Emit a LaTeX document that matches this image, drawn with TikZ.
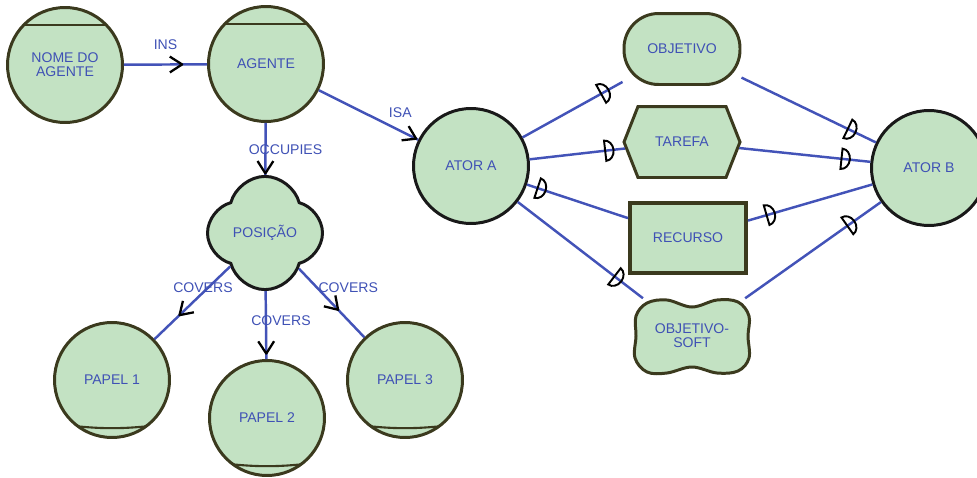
\documentclass[tikz,border=0pt]{standalone}
\usepackage{fontspec}
\setmainfont{Liberation Sans}
\usetikzlibrary{shapes.symbols,decorations.markings}

\definecolor{nodefill}{HTML}{C3E2C3}
\definecolor{nodeline}{HTML}{3B3A1E}
\definecolor{linkblue}{HTML}{4353B8}
\definecolor{textblue}{HTML}{3F51B5}

\tikzset{
	ent/.style={draw=nodeline, fill=nodefill, line width=1.7pt, text=textblue, font=\fontsize{8}{8}\selectfont, align=center, inner sep=0pt},
	agentnode/.style={ent, circle, minimum size=2.3cm, path picture={\draw[nodeline,line width=1.2pt] ([yshift=-0.35cm]path picture bounding box.north west) -- ([yshift=-0.35cm]path picture bounding box.north east);}},
	rolenode/.style={ent, circle, minimum size=2.3cm, path picture={\draw[nodeline,line width=1.2pt] ([yshift=0.28cm]path picture bounding box.south west) to[bend right=8] ([yshift=0.28cm]path picture bounding box.south east);}},
	actornode/.style={ent, circle, draw=black!90, minimum size=2.3cm},
	link/.style={draw=linkblue, line width=1.4pt},
	lbl/.style={text=textblue, font=\fontsize{8}{8}\selectfont, inner sep=1pt},
	arrowat/.style={postaction={decorate, decoration={markings, mark=at position #1 with {\draw[black, line width=1.3pt, line join=round] (-7pt,4.5pt) -- (0,0) -- (-7pt,-4.5pt);}}}},
	dmark/.style={postaction={decorate, decoration={markings, mark=at position #1 with {\draw[black, line width=1.1pt] (-1.5pt,-5.8pt) arc[start angle=-90, end angle=90, x radius=4.8pt, y radius=5.8pt] -- cycle;}}}}
}

\begin{document}
\begin{tikzpicture}[x=0.02cm, y=-0.02cm]
	\useasboundingbox (0,0) rectangle (977,477);

	\node[agentnode] (nome) at (65,65) {NOME DO\\AGENTE};
	\node[agentnode] (agente) at (266,64) {AGENTE};
	\node[ent, cloud, cloud puffs=4, cloud puff arc=150, aspect=1, draw=black!90, minimum width=2.3cm, minimum height=2.25cm] (posicao) at (265,233) {POSIÇÃO};
	\node[rolenode] (papel1) at (112,380) {PAPEL 1};
	\node[rolenode] (papel2) at (267,418) {PAPEL 2};
	\node[rolenode] (papel3) at (405,380) {PAPEL 3};

	\node[actornode] (atorA) at (471,166) {ATOR A};
	\node[actornode] (atorB) at (929,168) {ATOR B};
	\node[ent, rectangle, rounded corners=0.69cm, minimum width=2.32cm, minimum height=1.42cm] (objetivo) at (682,49) {OBJETIVO};
	\node[ent, signal, signal to=west and east, signal pointer angle=137, minimum width=2.32cm, minimum height=1.42cm] (tarefa) at (682,142) {TAREFA};
	\node[ent, rectangle, line width=2.3pt, minimum width=2.32cm, minimum height=1.4cm] (recurso) at (688,238) {RECURSO};
	\coordinate (softc) at (692,336);
	\draw[ent, shift={(softc)}] plot[smooth cycle, tension=0.6] coordinates {(-56,-20) (-45,-33) (-25,-36) (0,-29) (25,-36) (46,-34) (57,-20) (56,0) (57,22) (46,35) (25,37) (0,31) (-25,37) (-45,36) (-57,22) (-56,0)};
	\node[ent, draw=none, fill=none, rectangle, minimum width=2.3cm, minimum height=1.45cm] (soft) at (softc) {OBJETIVO-\\SOFT};

	\draw[link, arrowat=0.7] (nome) -- node[lbl, above=7pt] {INS} (agente);
	\draw[link, arrowat=0.98] (agente) -- node[lbl, pos=0.82, yshift=0.36cm] {ISA} (atorA);
	\draw[link, arrowat=0.97] (agente) -- node[lbl, pos=0.52, xshift=0.4cm] {OCCUPIES} (posicao);
	\draw[link, arrowat=0.67] (posicao) -- node[lbl, pos=0.36, yshift=0.1cm] {COVERS} (papel1);
	\draw[link, arrowat=0.92] (posicao) -- node[lbl, pos=0.44, xshift=0.3cm] {COVERS} (papel2);
	\draw[link, arrowat=0.6] (posicao) -- node[lbl, pos=0.28, xshift=0.62cm] {COVERS} (papel3);

	\draw[link, dmark=0.81] (atorA) -- (objetivo);
	\draw[link, dmark=0.82] (atorA) -- (tarefa);
	\draw[link, dmark=0.13] (atorA) -- (recurso);
	\draw[link, dmark=0.79] (atorA) -- (soft);
	\draw[link, dmark=0.81] (objetivo) -- (atorB);
	\draw[link, dmark=0.8] (tarefa) -- (atorB);
	\draw[link, dmark=0.17] (recurso) -- (atorB);
	\draw[link, dmark=0.77] (soft) -- (atorB);
\end{tikzpicture}
\end{document}
